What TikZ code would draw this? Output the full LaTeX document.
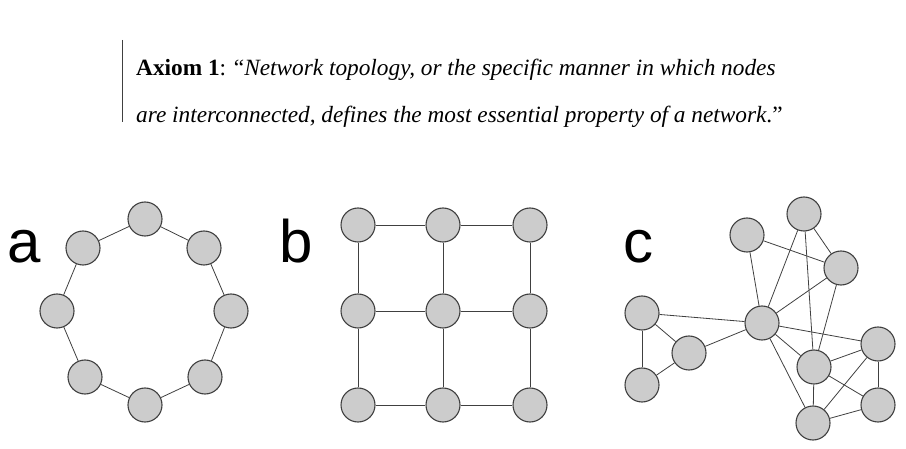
\documentclass[tikz,border=0pt]{standalone}
\usepackage{fontspec}
\setmainfont{Liberation Serif}
\setsansfont{Liberation Sans}
\begin{document}
\begin{tikzpicture}[x=1pt,y=-1pt,
 nd/.style={circle,draw=black!75,fill=black!20,line width=1.1pt,minimum size=34pt,inner sep=0pt},
 ed/.style={draw=black!75,line width=0.8pt},
 lab/.style={font=\sffamily\fontsize{60}{60}\selectfont,anchor=base}]
\useasboundingbox (0,0) rectangle (906,449);
\draw[black!75,line width=0.8pt] (122,40) -- (122,122);
\node[anchor=base west,inner sep=0,font=\fontsize{23.3}{26}\selectfont] (t1) at (136,76) {\textbf{Axiom 1}: “\textit{Network topology, or the specific manner in which nodes}};
\node[anchor=base west,inner sep=0,font=\fontsize{23.3}{26}\selectfont] (t2) at (136,123) {\textit{are interconnected, defines the most essential property of a network}.”};
\node[lab] (la) at (24,263) {a};
\node[lab] (lb) at (296,263) {b};
\node[lab] (lc) at (638,263) {c};
% a
\foreach \n/\x/\y in {1/145/219,2/204/248,3/231/311,4/205/377,5/145/405,6/85/377,7/57/311,8/83/248}
  \node[nd] (a\n) at (\x,\y) {};
\foreach \i/\j in {1/2,2/3,3/4,4/5,5/6,6/7,7/8,8/1} \draw[ed] (a\i) -- (a\j);
% b
\foreach \c/\x in {1/358,2/443,3/530}
 \foreach \r/\y in {1/225,2/311,3/405}
  \node[nd] (b\r\c) at (\x,\y) {};
\foreach \r in {1,2,3}{\draw[ed] (b\r1) -- (b\r2) -- (b\r3);}
\foreach \c in {1,2,3}{\draw[ed] (b1\c) -- (b2\c) -- (b3\c);}
% c
\foreach \n/\x/\y in {A/747/235,B/804/214,C/841/268,D/762/323,E/642/313,F/689/353,G/642/385,H/814/367,I/878/344,J/878/405,K/813/423}
  \node[nd] (c\n) at (\x,\y) {};
\foreach \i/\j in {A/C,A/D,B/D,B/C,B/H,C/D,C/H,D/E,D/F,D/I,D/H,D/K,E/F,E/G,G/F,H/I,H/J,H/K,I/K,I/J,J/K}
  \draw[ed] (c\i) -- (c\j);
\end{tikzpicture}
\end{document}
